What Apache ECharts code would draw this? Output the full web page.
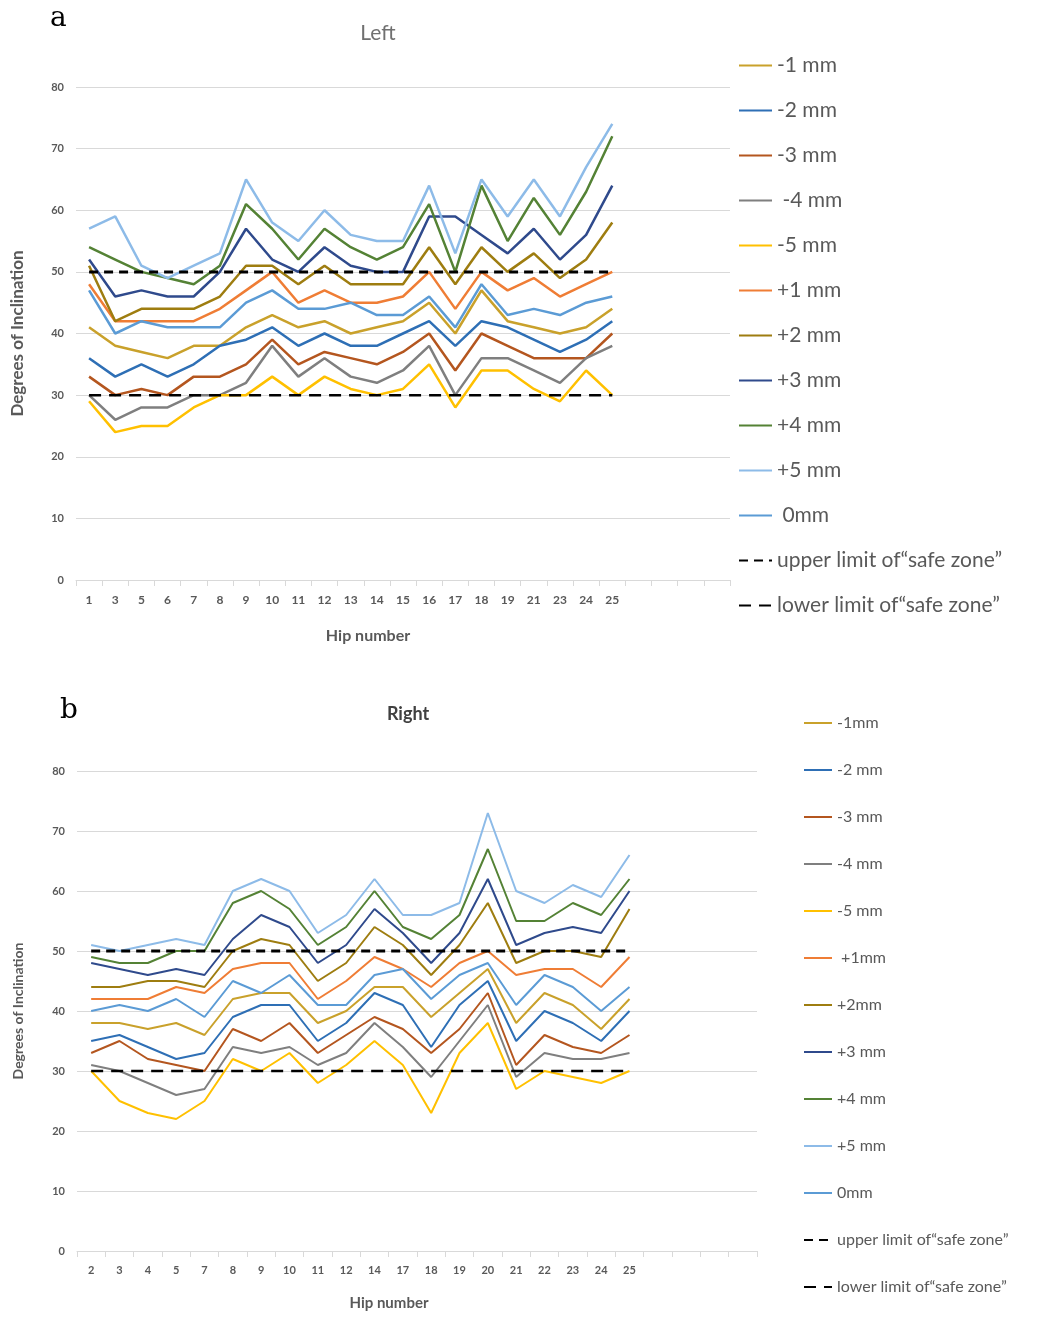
<!DOCTYPE html>
<html>
<head>
<meta charset="utf-8">
<script src="https://cdn.jsdelivr.net/npm/echarts@6/dist/echarts.min.js"></script>
<style>
  body { margin: 0; background: #fff; }
  #chartA { position: absolute; left: 0; top: 0; width: 1049px; height: 660px; }
  #chartB { position: absolute; left: 0; top: 660px; width: 1049px; height: 660px; }
</style>
</head>
<body>
<div id="chartA"></div>
<div id="chartB"></div>
<script>
// hip numbers (trailing blanks are empty rows on the axis)
const hipsLeft = ['1', '3', '5', '6', '7', '8', '9', '10', '11', '12', '13', '14', '15', '16', '17', '18', '19', '21', '23', '24', '25', '', '', '', ''];
const hipsRight = ['2', '3', '4', '5', '7', '8', '9', '10', '11', '12', '14', '17', '18', '19', '20', '21', '22', '23', '24', '25', '', '', '', ''];
const yTicks = [0, 10, 20, 30, 40, 50, 60, 70, 80];

// Left
const leftM1 = [41, 38, 37, 36, 38, 38, 41, 43, 41, 42, 40, 41, 42, 45, 40, 47, 42, 41, 40, 41, 44];
const leftM2 = [36, 33, 35, 33, 35, 38, 39, 41, 38, 40, 38, 38, 40, 42, 38, 42, 41, 39, 37, 39, 42];
const leftM3 = [33, 30, 31, 30, 33, 33, 35, 39, 35, 37, 36, 35, 37, 40, 34, 40, 38, 36, 36, 36, 40];
const leftM4 = [30, 26, 28, 28, 30, 30, 32, 38, 33, 36, 33, 32, 34, 38, 30, 36, 36, 34, 32, 36, 38];
const leftM5 = [29, 24, 25, 25, 28, 30, 30, 33, 30, 33, 31, 30, 31, 35, 28, 34, 34, 31, 29, 34, 30];
const leftP1 = [48, 42, 42, 42, 42, 44, 47, 50, 45, 47, 45, 45, 46, 50, 44, 50, 47, 49, 46, 48, 50];
const leftP2 = [51, 42, 44, 44, 44, 46, 51, 51, 48, 51, 48, 48, 48, 54, 48, 54, 50, 53, 49, 52, 58];
const leftP3 = [52, 46, 47, 46, 46, 50, 57, 52, 50, 54, 51, 50, 50, 59, 59, 56, 53, 57, 52, 56, 64];
const leftP4 = [54, 52, 50, 49, 48, 51, 61, 57, 52, 57, 54, 52, 54, 61, 50, 64, 55, 62, 56, 63, 72];
const leftP5 = [57, 59, 51, 49, 51, 53, 65, 58, 55, 60, 56, 55, 55, 64, 53, 65, 59, 65, 59, 67, 74];
const left0 = [47, 40, 42, 41, 41, 41, 45, 47, 44, 44, 45, 43, 43, 46, 41, 48, 43, 44, 43, 45, 46];
const leftUpper = [50, 50, 50, 50, 50, 50, 50, 50, 50, 50, 50, 50, 50, 50, 50, 50, 50, 50, 50, 50, 50];
const leftLower = [30, 30, 30, 30, 30, 30, 30, 30, 30, 30, 30, 30, 30, 30, 30, 30, 30, 30, 30, 30, 30];

// Right
const rightM1 = [38, 38, 37, 38, 36, 42, 43, 43, 38, 40, 44, 44, 39, 43, 47, 38, 43, 41, 37, 42];
const rightM2 = [35, 36, 34, 32, 33, 39, 41, 41, 35, 38, 43, 41, 34, 41, 45, 35, 40, 38, 35, 40];
const rightM3 = [33, 35, 32, 31, 30, 37, 35, 38, 33, 36, 39, 37, 33, 37, 43, 31, 36, 34, 33, 36];
const rightM4 = [31, 30, 28, 26, 27, 34, 33, 34, 31, 33, 38, 34, 29, 35, 41, 29, 33, 32, 32, 33];
const rightM5 = [30, 25, 23, 22, 25, 32, 30, 33, 28, 31, 35, 31, 23, 33, 38, 27, 30, 29, 28, 30];
const rightP1 = [42, 42, 42, 44, 43, 47, 48, 48, 42, 45, 49, 47, 44, 48, 50, 46, 47, 47, 44, 49];
const rightP2 = [44, 44, 45, 45, 44, 50, 52, 51, 45, 48, 54, 51, 46, 51, 58, 48, 50, 50, 49, 57];
const rightP3 = [48, 47, 46, 47, 46, 52, 56, 54, 48, 51, 57, 53, 48, 53, 62, 51, 53, 54, 53, 60];
const rightP4 = [49, 48, 48, 50, 50, 58, 60, 57, 51, 54, 60, 54, 52, 56, 67, 55, 55, 58, 56, 62];
const rightP5 = [51, 50, 51, 52, 51, 60, 62, 60, 53, 56, 62, 56, 56, 58, 73, 60, 58, 61, 59, 66];
const right0 = [40, 41, 40, 42, 39, 45, 43, 46, 41, 41, 46, 47, 42, 46, 48, 41, 46, 44, 40, 44];
const rightUpper = [50, 50, 50, 50, 50, 50, 50, 50, 50, 50, 50, 50, 50, 50, 50, 50, 50, 50, 50, 50];
const rightLower = [30, 30, 30, 30, 30, 30, 30, 30, 30, 30, 30, 30, 30, 30, 30, 30, 30, 30, 30, 30];

const lineColors = ['#C9A12B', '#2E6FB5', '#B4561F', '#7F7F7F', '#FFC000', '#EF7D35', '#9E7D10', '#2F4A8C', '#548235', '#8DBBE8', '#5B9BD5'];
const grey = '#595959';
const font = 'Lato, "Open Sans", sans-serif';

function makeOption(cfg) {
  const series = cfg.data.map((d, i) => ({
    name: cfg.names[i],
    type: 'line',
    data: d,
    symbol: 'none',
    lineStyle: { color: lineColors[i], width: cfg.lineWidth },
    itemStyle: { color: lineColors[i] }
  }));
  series.push({
    name: cfg.names[11], type: 'line', data: cfg.upper, symbol: 'none', z: 3,
    lineStyle: { color: '#000', width: 3, type: [9, 6] },
    itemStyle: { color: '#000' }
  });
  series.push({
    name: cfg.names[12], type: 'line', data: cfg.lower, symbol: 'none', z: 3,
    lineStyle: { color: '#000', width: 2.5, type: [12, 8] },
    itemStyle: { color: '#000' }
  });
  return {
    animation: false,
    textStyle: { fontFamily: font },
    title: [
      { text: cfg.letter, left: cfg.letterX, top: cfg.letterY,
        textStyle: { fontFamily: '"DejaVu Serif", "Liberation Serif", serif', fontSize: 28, fontWeight: 'normal', color: '#000' } },
      { text: cfg.title, left: cfg.titleX, top: cfg.titleY, textAlign: 'center',
        textStyle: { fontFamily: font, fontSize: cfg.titleSize, fontWeight: cfg.titleWeight, color: cfg.titleColor } }
    ],
    legend: {
      orient: 'vertical',
      left: cfg.legendLeft,
      top: cfg.legendTop,
      itemWidth: cfg.iconW,
      itemHeight: 14,
      itemGap: cfg.legendGap,
      itemStyle: { opacity: 0 },
      data: cfg.names,
      textStyle: { fontFamily: font, fontSize: cfg.legendSize, color: grey }
    },
    grid: cfg.grid,
    xAxis: {
      type: 'category',
      data: cfg.hips,
      boundaryGap: true,
      name: 'Hip number',
      nameLocation: 'middle',
      nameGap: cfg.xNameGap,
      nameTextStyle: { fontFamily: font, fontSize: cfg.xNameSize, fontWeight: 'bold', color: grey,
        padding: [0, cfg.xNameShift, 0, 0] },
      axisLine: { lineStyle: { color: '#D9D9D9' } },
      axisTick: { show: true, length: 6, lineStyle: { color: '#D9D9D9' } },
      axisLabel: { interval: 0, margin: 14, fontSize: cfg.xLabelSize, fontWeight: 'bold', color: grey }
    },
    yAxis: {
      type: 'value',
      min: yTicks[0],
      max: yTicks[yTicks.length - 1],
      interval: 10,
      name: 'Degrees of Inclination',
      nameLocation: 'middle',
      nameRotate: 90,
      nameGap: cfg.yNameGap,
      nameTextStyle: { fontFamily: font, fontSize: cfg.yNameSize, fontWeight: 'bold', color: grey },
      axisLine: { show: false },
      axisTick: { show: false },
      axisLabel: { margin: 12, fontSize: 11, fontWeight: 'bold', color: grey },
      splitLine: { lineStyle: { color: '#D9D9D9', width: 1 } }
    },
    series: series
  };
}

const chartA = echarts.init(document.getElementById('chartA'));
chartA.setOption(makeOption({
  letter: 'a', letterX: 45, letterY: 0,
  title: 'Left', titleX: 373, titleY: 18, titleSize: 21, titleWeight: 'normal', titleColor: '#707070',
  names: ['-1 mm', '-2 mm', '-3 mm', ' -4 mm', '-5 mm', '+1 mm', '+2 mm', '+3 mm', '+4 mm', '+5 mm', ' 0mm',
          'upper limit of“safe zone”', 'lower limit of“safe zone”'],
  hips: hipsLeft,
  data: [leftM1, leftM2, leftM3, leftM4, leftM5, leftP1, leftP2, leftP3, leftP4, leftP5, left0],
  upper: leftUpper, lower: leftLower,
  lineWidth: 2.5,
  legendLeft: 733, legendTop: 50, iconW: 33, legendGap: 24, legendSize: 21,
  grid: { left: 76, right: 319, top: 87, bottom: 80 },
  xNameGap: 48, xNameSize: 16, xLabelSize: 12, xNameShift: 70,
  yNameGap: 50, yNameSize: 17
}));

const chartB = echarts.init(document.getElementById('chartB'));
chartB.setOption(makeOption({
  letter: 'b', letterX: 55, letterY: 32,
  title: 'Right', titleX: 403, titleY: 40, titleSize: 18, titleWeight: 'bold', titleColor: '#404040',
  names: ['-1mm', '-2 mm', '-3 mm', '-4 mm', '-5 mm', ' +1mm', '+2mm', '+3 mm', '+4 mm', '+5 mm', '0mm',
          'upper limit of“safe zone”', 'lower limit of“safe zone”'],
  hips: hipsRight,
  data: [rightM1, rightM2, rightM3, rightM4, rightM5, rightP1, rightP2, rightP3, rightP4, rightP5, right0],
  upper: rightUpper, lower: rightLower,
  lineWidth: 2,
  legendLeft: 798, legendTop: 50, iconW: 28, legendGap: 31, legendSize: 16,
  grid: { left: 77, right: 292, top: 111, bottom: 69 },
  xNameGap: 45, xNameSize: 15, xLabelSize: 11, xNameShift: 56,
  yNameGap: 52, yNameSize: 14
}));
</script>
</body>
</html>
